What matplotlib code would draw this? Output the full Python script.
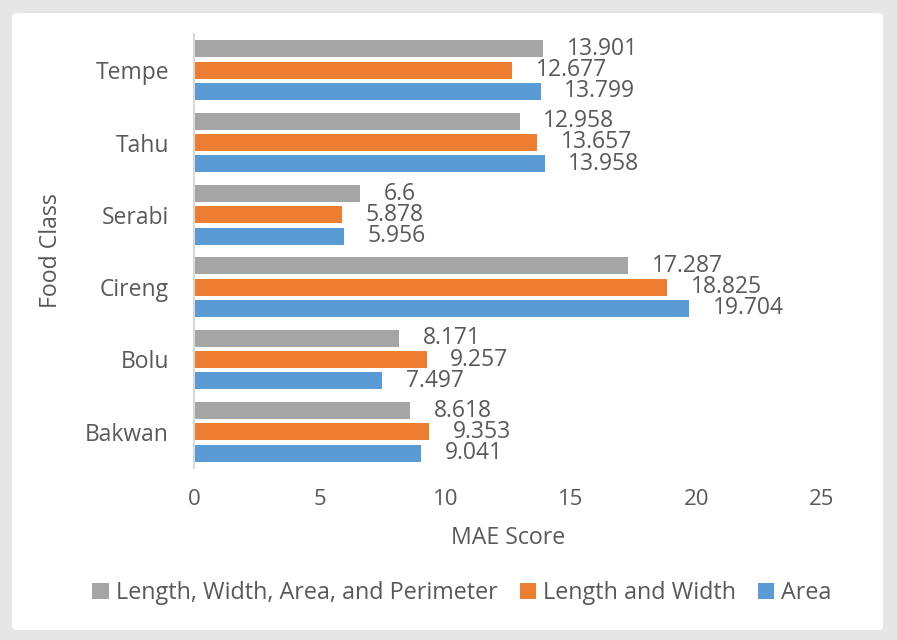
import numpy as np
import matplotlib.pyplot as plt
from matplotlib.patches import FancyBboxPatch

plt.rcParams['font.family'] = ['Open Sans', 'DejaVu Sans']

# данные
foods = ['Bakwan', 'Bolu', 'Cireng', 'Serabi', 'Tahu', 'Tempe']
area = [9.041, 7.497, 19.704, 5.956, 13.958, 13.799]
len_width = [9.353, 9.257, 18.825, 5.878, 13.657, 12.677]
all_feat = [8.618, 8.171, 17.287, 6.6, 12.958, 13.901]
labels = ['Length, Width, Area, and Perimeter', 'Length and Width', 'Area']
colors = ['#A5A5A5', '#ED7D31', '#5B9BD5']
txt = '#595959'
fs = 16

fig = plt.figure(figsize=(8.97, 6.4), dpi=100, facecolor='#e6e6e6')
panel = FancyBboxPatch((12 / 897, 1 - 630 / 640), 871 / 897, 617 / 640,
                       boxstyle='round,pad=0,rounding_size=0.006',
                       transform=fig.transFigure, facecolor='white',
                       edgecolor='none', zorder=-10)
fig.patches.append(panel)

ax = fig.add_axes([194 / 897, 1 - 468 / 640, 628 / 897, 434 / 640])
ax.set_facecolor('none')

y = np.arange(len(foods))
step = 0.294
h = 0.235
series = [all_feat, len_width, area]
offsets = [step, 0, -step]
bars = []
for vals, off, c, lab in zip(series, offsets, colors, labels):
    b = ax.barh(y + off, vals, height=h, color=c, label=lab, zorder=2)
    bars.append(b)
    for yy, v in zip(y + off, vals):
        ax.annotate(f'{v:g}', (v, yy), xytext=(17, 0), textcoords='offset points',
                    ha='left', va='center', fontsize=fs + 0.5, color=txt)

ax.set_xlim(0, 25)
ax.set_ylim(-0.5, 5.5)
ax.set_xticks([0, 5, 10, 15, 20, 25])
ax.set_yticks(y)
ax.set_yticklabels(foods)
ax.tick_params(axis='x', length=0, pad=15, labelsize=fs, labelcolor=txt)
ax.tick_params(axis='y', length=0, pad=18, labelsize=fs + 0.5, labelcolor=txt)
for s in ['top', 'right', 'bottom']:
    ax.spines[s].set_visible(False)
ax.spines['left'].set_color('#d9d9d9')
ax.spines['left'].set_linewidth(1.5)

ax.set_xlabel('MAE Score', fontsize=fs + 0.7, color=txt, labelpad=12)
ax.set_ylabel('Food Class', fontsize=fs + 0.7, color=txt, labelpad=16)

fig.legend(handles=bars, labels=labels, loc='center', ncol=3,
           bbox_to_anchor=(462 / 897, 1 - 593 / 640), frameon=False,
           fontsize=fs + 0.8, labelcolor=txt, handlelength=0.7, handleheight=0.7,
           handletextpad=0.3, columnspacing=0.95)

fig.savefig('out.png', dpi=100, facecolor=fig.get_facecolor())
